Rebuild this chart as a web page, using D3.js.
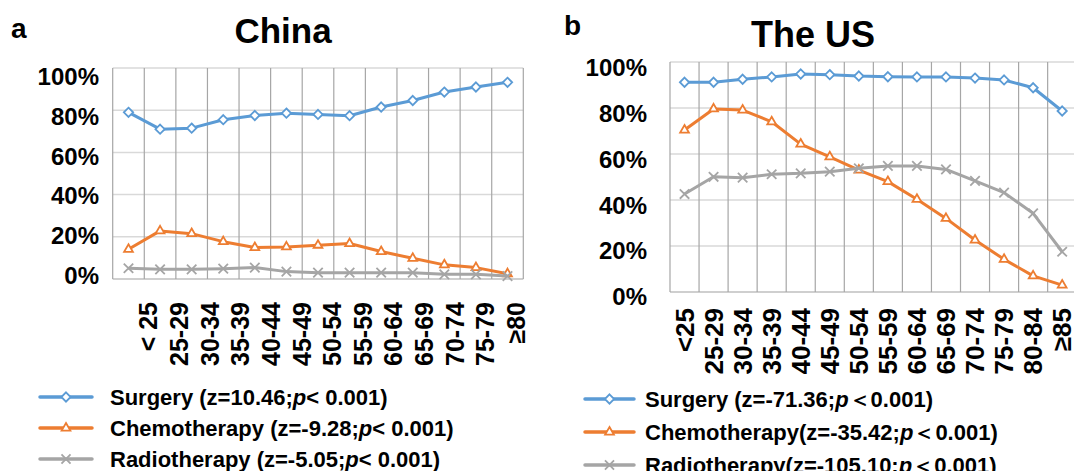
<!DOCTYPE html>
<html>
<head>
<meta charset="utf-8">
<script src="https://cdn.jsdelivr.net/npm/d3@7"></script>
<style>
  body { margin: 0; background: #fff; }
  svg { font-family: Arial, "Liberation Sans", sans-serif; font-weight: bold; }
</style>
</head>
<body>
<div id="chart"></div>
<script>
const width = 1074, height = 471;

// age groups
const ageChina = ["< 25", "25-29", "30-34", "35-39", "40-44", "45-49", "50-54", "55-59", "60-64", "65-69", "70-74", "75-79", "≥80"];
const ageUS = ["<25", "25-29", "30-34", "35-39", "40-44", "45-49", "50-54", "55-59", "60-64", "65-69", "70-74", "75-79", "80-84", "≥85"];

// percentages
const surgeryChina = [79, 71, 71.5, 75.5, 77.5, 78.6, 78, 77.4, 81.5, 84.6, 88.6, 91, 93.2];
const chemoChina = [14.1, 22.8, 21.5, 17.7, 14.9, 15.2, 16, 16.8, 13, 9.8, 6.7, 5.4, 2.5];
const radioChina = [5.1, 4.6, 4.6, 4.9, 5.4, 3.5, 3, 3, 3, 3, 2.2, 2.2, 1.4];

const surgeryUS = [91.2, 91.2, 92.5, 93.5, 94.8, 94.5, 93.9, 93.6, 93.5, 93.5, 93, 92.2, 88.8, 78.7];
const chemoUS = [70.4, 79.6, 79.1, 74, 64.3, 58.8, 53, 48, 40.3, 32, 22.6, 14.2, 7, 3];
const radioUS = [42.6, 50.1, 49.7, 51.2, 51.6, 52.3, 53.8, 54.8, 54.8, 53.3, 48.3, 43.2, 34.2, 17.5];

const yTicks = [0, 20, 40, 60, 80, 100];

const legendChina = [
  { name: "Surgery (z=10.46;", tail: "< 0.001)" },
  { name: "Chemotherapy (z=-9.28;", tail: "< 0.001)" },
  { name: "Radiotherapy (z=-5.05;", tail: "< 0.001)" }
];
const legendUS = [
  { name: "Surgery (z=-71.36;", tail: "＜0.001)" },
  { name: "Chemotherapy(z=-35.42;", tail: "＜0.001)" },
  { name: "Radiotherapy(z=-105.10;", tail: "＜0.001)" }
];

const colors = ["#5B9BD5", "#ED7D31", "#A5A5A5"];
const markers = [d3.symbolDiamond2, d3.symbolTriangle2, d3.symbolX];

const svg = d3.select("#chart").append("svg")
  .attr("width", width)
  .attr("height", height);

function drawPanel(p) {
  const g = svg.append("g");

  const x = d3.scaleBand().domain(p.ages).range([p.left, p.right]);
  const y = d3.scaleLinear().domain([0, 100]).range([p.bottom, p.top]);
  const xLab = d3.scalePoint().domain(p.ages).range(p.labelRange);
  const yLab = d3.scaleLinear().domain([0, 100]).range(p.labelY);

  // horizontal grid
  g.selectAll(".hgrid")
    .data(yTicks)
    .enter()
    .append("line")
      .attr("x1", p.left).attr("x2", p.right)
      .attr("y1", d => y(d)).attr("y2", d => y(d))
      .attr("stroke", d => d == 0 ? "#bfbfbf" : "#d9d9d9")
      .attr("stroke-width", 1.5);

  // vertical grid at band edges
  const edges = p.ages.map(a => x(a)).concat([p.right]);
  g.selectAll(".vgrid")
    .data(edges)
    .enter()
    .append("line")
      .attr("x1", d => d).attr("x2", d => d)
      .attr("y1", p.top).attr("y2", p.bottom)
      .attr("stroke", "#a6a6a6")
      .attr("stroke-width", 1.2);

  // y labels
  g.selectAll(".ylab")
    .data(yTicks)
    .enter()
    .append("text")
      .attr("x", p.yLabelX)
      .attr("y", d => yLab(d))
      .attr("dy", "0.36em")
      .attr("text-anchor", "end")
      .style("font-size", "24px")
      .text(d => d + "%");

  // x labels, rotated
  g.selectAll(".xlab")
    .data(p.ages)
    .enter()
    .append("text")
      .attr("transform", d => `translate(${xLab(d)},${p.xLabelTop}) rotate(-90)`)
      .attr("dy", "0.36em")
      .attr("text-anchor", "end")
      .style("font-size", p.xFont + "px")
      .text(d => d);

  const line = d3.line()
    .x((d, i) => x(p.ages[i]) + x.bandwidth() / 2)
    .y(d => y(d));

  p.series.forEach((s, k) => {
    g.append("path")
      .datum(s)
      .attr("d", line)
      .attr("fill", "none")
      .attr("stroke", colors[k])
      .attr("stroke-width", 3)
      .attr("stroke-linejoin", "round");

    g.selectAll(".m" + k)
      .data(s)
      .enter()
      .append("path")
        .attr("transform", (d, i) => `translate(${x(p.ages[i]) + x.bandwidth() / 2},${y(d)})`)
        .attr("d", d3.symbol(markers[k], k == 2 ? 60 : 55))
        .attr("fill", k == 2 ? "none" : "#fff")
        .attr("stroke", colors[k])
        .attr("stroke-width", 1.8);
  });

  // panel letter and title
  g.append("text")
    .attr("x", p.letterX).attr("y", p.letterY)
    .style("font-size", "28px")
    .text(p.letter);
  g.append("text")
    .attr("x", p.titleX).attr("y", p.titleY)
    .attr("text-anchor", "middle")
    .style("font-size", p.titleFont + "px")
    .text(p.title);

  // legend
  p.legend.forEach((l, k) => {
    const ly = p.legendY[k];
    g.append("line")
      .attr("x1", p.legendX[0]).attr("x2", p.legendX[1])
      .attr("y1", ly).attr("y2", ly)
      .attr("stroke", colors[k])
      .attr("stroke-width", 3.5)
      .attr("stroke-linecap", "round");
    g.append("path")
      .attr("transform", `translate(${(p.legendX[0] + p.legendX[1]) / 2},${ly})`)
      .attr("d", d3.symbol(markers[k], 55))
      .attr("fill", k == 2 ? "none" : "#fff")
      .attr("stroke", colors[k])
      .attr("stroke-width", 1.8);
    const t = g.append("text")
      .attr("x", p.legendTextX)
      .attr("y", ly + 7.5)
      .style("font-size", "22px");
    t.append("tspan").text(l.name);
    t.append("tspan").style("font-style", "italic").text("p");
    t.append("tspan").text(l.tail);
  });
}

drawPanel({
  ages: ageChina,
  series: [surgeryChina, chemoChina, radioChina],
  left: 112.7, right: 523.3, top: 68, bottom: 279,
  labelRange: [148.3, 516],
  labelY: [275, 76.7],
  yLabelX: 99,
  xLabelTop: 302,
  xFont: 25,
  letter: "a", letterX: 11, letterY: 38,
  title: "China", titleX: 283, titleY: 43, titleFont: 35,
  legend: legendChina,
  legendX: [40, 92],
  legendY: [397, 428, 459],
  legendTextX: 110
});

drawPanel({
  ages: ageUS,
  series: [surgeryUS, chemoUS, radioUS],
  left: 670, right: 1076.7, top: 62, bottom: 292,
  labelRange: [684.5, 1062],
  labelY: [296.7, 67.2],
  yLabelX: 647,
  xLabelTop: 308,
  xFont: 26,
  letter: "b", letterX: 564, letterY: 35,
  title: "The US", titleX: 813, titleY: 46.5, titleFont: 36,
  legend: legendUS,
  legendX: [585, 634],
  legendY: [399, 432, 465],
  legendTextX: 645
});
</script>
</body>
</html>
